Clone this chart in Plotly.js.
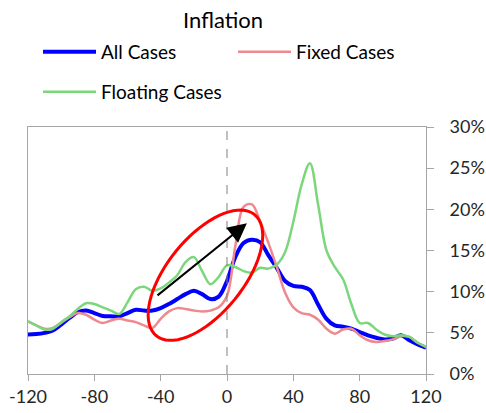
<!DOCTYPE html>
<html>
<head>
<meta charset="utf-8">
<script src="https://cdn.plot.ly/plotly-3.0.1.min.js"></script>
<style>html,body{margin:0;padding:0;background:#fff;}#chart{width:486px;height:413px;}</style>
</head>
<body>
<div id="chart"></div>
<script>
// Months relative to event (x axis)
const months = [-120,-115,-110,-105,-100,-95,-90,-85,-80,-75,-70,-65,-60,-55,-50,-45,-40,-35,-30,-25,-20,-15,-10,-5,0,5,10,15,20,25,30,35,40,45,50,55,60,65,70,75,80,85,90,95,100,105,110,115,120];

// Inflation (%) series
const allCases = [4.8,4.85,5.0,5.3,6.0,6.8,7.5,7.7,7.4,7.05,7.0,7.0,7.4,7.8,7.7,7.7,8.0,8.5,9.1,9.7,10.1,9.7,9.1,9.4,11.3,14.2,15.9,16.3,16.0,14.4,12.9,11.3,10.7,10.6,10.2,8.4,6.7,5.9,5.75,5.5,5.1,4.7,4.4,4.2,4.3,4.7,4.1,3.6,3.2];
const fixedCases = [6.4,5.9,5.5,5.6,6.2,6.9,7.4,7.2,6.6,6.2,6.5,6.7,6.5,6.3,5.9,5.6,6.7,7.6,8.0,7.9,7.7,7.6,7.7,8.1,9.5,15.5,20.3,20.6,18.5,15.9,13.0,9.9,8.1,7.4,7.2,6.6,5.5,4.9,5.4,5.5,4.7,4.1,3.9,4.0,4.2,4.6,4.5,3.8,3.3];
const floatingCases = [6.4,5.9,5.4,5.5,6.3,7.0,7.9,8.6,8.5,8.1,7.7,7.3,8.7,10.3,10.6,10.1,10.4,11.1,12.0,13.6,14.2,12.5,10.9,11.8,13.2,13.0,12.5,12.3,12.9,12.8,13.3,14.8,18.5,23.0,25.6,20.5,15.0,13.0,11.5,8.5,6.2,6.2,5.4,4.8,4.6,4.7,4.5,3.8,3.3];

const seriesNames = ['All Cases','Fixed Cases','Floating Cases'];
const xTicks = [-120,-80,-40,0,40,80,120];
const yTicks = [0,5,10,15,20,25,30];

const W = 486, H = 413;
const M = {l:28, r:60, t:127, b:39};
const xRange = [-120,120], yRange = [0,30];
const plotW = W - M.l - M.r, plotH = H - M.t - M.b;
const pxPerX = plotW / (xRange[1]-xRange[0]);
const pxPerY = plotH / (yRange[1]-yRange[0]);

// rotated ellipse (annotation highlight) built in pixel space, converted to data units
function ellipsePath(cx, cy, a, b, angDeg) {
  const t = angDeg*Math.PI/180; let d = '';
  for (let i=0;i<=72;i++){
    const u = i/72*2*Math.PI;
    const dx = a*Math.cos(u)*Math.cos(t) - b*Math.sin(u)*Math.sin(t);
    const dy = a*Math.cos(u)*Math.sin(t) + b*Math.sin(u)*Math.cos(t);
    const X = cx + dx/pxPerX, Y = cy + dy/pxPerY;
    d += (i===0?'M':'L') + X.toFixed(3) + ',' + Y.toFixed(3);
  }
  return d + 'Z';
}

const font = 'Lato, "Open Sans", sans-serif';
const legFont = {family:font, size:19, color:'#000'};
const traces = [
  {x: months, y: allCases, name: seriesNames[0], type:'scatter', mode:'lines', line:{color:'#0000FF', width:4, shape:'spline', smoothing:1}, legend:'legend'},
  {x: months, y: fixedCases, name: seriesNames[1], type:'scatter', mode:'lines', line:{color:'#EE8A8F', width:2.5, shape:'spline', smoothing:1}, legend:'legend3'},
  {x: months, y: floatingCases, name: seriesNames[2], type:'scatter', mode:'lines', line:{color:'#7CD67C', width:2.5, shape:'spline', smoothing:1}, legend:'legend2'}
];

function leg(xpx, ypx) {
  return {orientation:'h', xref:'container', yref:'container', x: xpx/W, y: 1-ypx/H, xanchor:'left', yanchor:'middle', itemwidth:48, font:legFont, bgcolor:'rgba(0,0,0,0)', borderwidth:0};
}

const layout = {
  width: W, height: H,
  margin: M,
  paper_bgcolor:'#fff', plot_bgcolor:'#fff',
  font: {family: font, size: 18, color:'#262626'},
  title: {text:'Inflation', x: 223/W, xref:'container', xanchor:'center', y: 1-20/H, yref:'container', yanchor:'middle', font:{family: font, size: 22, color:'#000'}},
  showlegend: true,
  legend: leg(43, 52),
  legend3: leg(238, 52),
  legend2: leg(43, 92),
  xaxis: {range: xRange, tickvals: xTicks, ticktext: xTicks.map(String), showgrid:false, zeroline:false, showline:true, linecolor:'#A6A6A6', linewidth:1, mirror:true, ticks:'outside', ticklen:6, tickcolor:'#A6A6A6', tickfont:{family:font, size:18, color:'#262626'}},
  yaxis: {range: yRange, side:'right', tickvals: yTicks, ticktext: yTicks.map(v=>v+'%'), showgrid:false, zeroline:false, showline:true, linecolor:'#A6A6A6', linewidth:1, mirror:true, ticks:'outside', ticklen:7, tickcolor:'#A6A6A6', ticklabelstandoff:12, tickfont:{family:font, size:18, color:'#262626'}},
  shapes: [
    {type:'line', xref:'x', yref:'paper', x0:0, x1:0, y0:0, y1:1, line:{color:'#808080', width:1, dash:'dash'}},
    {type:'path', xref:'x', yref:'y', path: ellipsePath(-13, 12.0, 78, 38, 51), line:{color:'#FF0000', width:3}, fillcolor:'rgba(0,0,0,0)'}
  ],
  annotations: [
    {xref:'x', yref:'y', axref:'x', ayref:'y', x:12, y:18.3, ax:-42.8, ay:9.4, text:'', showarrow:true, arrowhead:2, arrowsize:1.9, arrowwidth:2, arrowcolor:'#000'}
  ]
};

Plotly.newPlot('chart', traces, layout, {displayModeBar:false, staticPlot:true}).then(function(){
  document.querySelectorAll('.legendlines path.js-line').forEach(function(p){ p.setAttribute('d','M0,0h53'); });
});
</script>
</body>
</html>
